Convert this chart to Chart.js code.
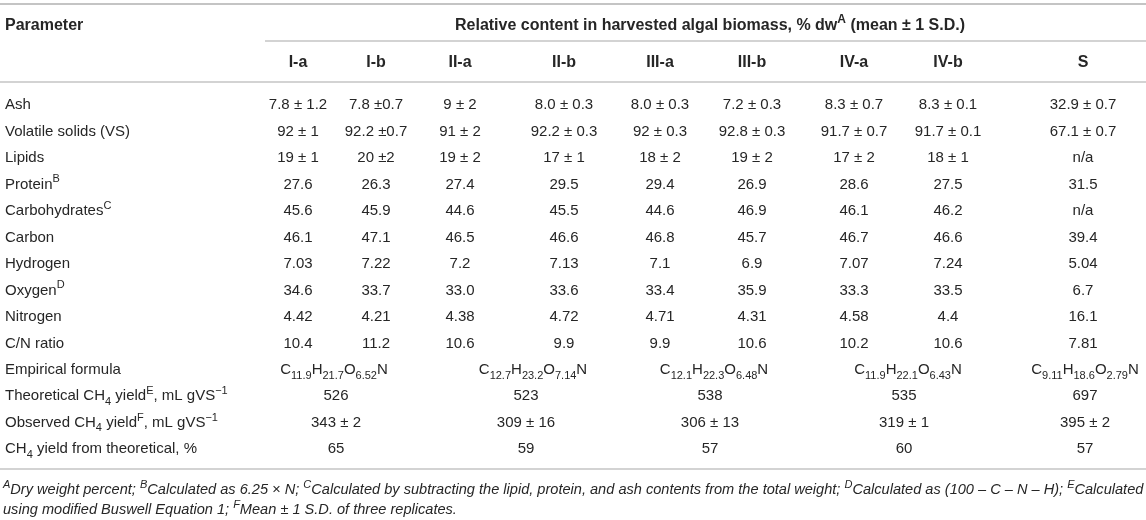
<!DOCTYPE html>
<html><head><meta charset="utf-8">
<script src="https://cdn.jsdelivr.net/npm/chart.js@4.4.1/dist/chart.umd.min.js"></script>
<style>html,body{margin:0;padding:0;background:#fff}#wrap{width:1146px;height:520px;overflow:hidden}</style>
</head><body><div id="wrap"><canvas id="c" width="1146" height="520"></canvas></div>
<script>
// ---------- DATA ----------
const headerParameter = "Parameter";
const headerSpan = "Relative content in harvested algal biomass, % dw^{A} (mean ± 1 S.D.)";
const parameters = ["Ash","Volatile solids (VS)","Lipids","Protein^{B}","Carbohydrates^{C}","Carbon","Hydrogen","Oxygen^{D}","Nitrogen","C/N ratio","Empirical formula","Theoretical CH_{4} yield^{E}, mL gVS^{−1}","Observed CH_{4} yield^{F}, mL gVS^{−1}","CH_{4} yield from theoretical, %"];
const columns = ["I-a","I-b","II-a","II-b","III-a","III-b","IV-a","IV-b","S"];
const valuesIa  = ["7.8 ± 1.2","92 ± 1","19 ± 1","27.6","45.6","46.1","7.03","34.6","4.42","10.4"];
const valuesIb  = ["7.8 ±0.7","92.2 ±0.7","20 ±2","26.3","45.9","47.1","7.22","33.7","4.21","11.2"];
const valuesIIa = ["9 ± 2","91 ± 2","19 ± 2","27.4","44.6","46.5","7.2","33.0","4.38","10.6"];
const valuesIIb = ["8.0 ± 0.3","92.2 ± 0.3","17 ± 1","29.5","45.5","46.6","7.13","33.6","4.72","9.9"];
const valuesIIIa = ["8.0 ± 0.3","92 ± 0.3","18 ± 2","29.4","44.6","46.8","7.1","33.4","4.71","9.9"];
const valuesIIIb = ["7.2 ± 0.3","92.8 ± 0.3","19 ± 2","26.9","46.9","45.7","6.9","35.9","4.31","10.6"];
const valuesIVa = ["8.3 ± 0.7","91.7 ± 0.7","17 ± 2","28.6","46.1","46.7","7.07","33.3","4.58","10.2"];
const valuesIVb = ["8.3 ± 0.1","91.7 ± 0.1","18 ± 1","27.5","46.2","46.6","7.24","33.5","4.4","10.6"];
const valuesS   = ["32.9 ± 0.7","67.1 ± 0.7","n/a","31.5","n/a","39.4","5.04","6.7","16.1","7.81"];
const groups = ["I","II","III","IV","S"];
const empiricalFormula = ["C_{11.9}H_{21.7}O_{6.52}N","C_{12.7}H_{23.2}O_{7.14}N","C_{12.1}H_{22.3}O_{6.48}N","C_{11.9}H_{22.1}O_{6.43}N","C_{9.11}H_{18.6}O_{2.79}N"];
const theoreticalYield = ["526","523","538","535","697"];
const observedYield = ["343 ± 2","309 ± 16","306 ± 13","319 ± 1","395 ± 2"];
const yieldFromTheoretical = ["65","59","57","60","57"];
const footnotes = [
  "^{A}Dry weight percent; ^{B}Calculated as 6.25 × N; ^{C}Calculated by subtracting the lipid, protein, and ash contents from the total weight; ^{D}Calculated as (100 – C – N – H); ^{E}Calculated",
  "using modified Buswell Equation 1; ^{F}Mean ± 1 S.D. of three replicates."
];

// ---------- LAYOUT ----------
const W = 1146, H = 520;
const ROW0 = 104, ROWH = 26.46;
const COL_X = [298,376,460,564,660,752,854,948,1083];
const GROUP_X = [336,526,710,904,1085];
const FORMULA_X = [334,533,714,908,1085];
const LABEL_X = 5;
const toRow = py => (py - ROW0) / ROWH;
const HEAD1_Y = 24, HEAD2_Y = 61, FOOT_Y = [489, 509];
const RULES = [{y:4,x0:0,x1:W,w:2},{y:41,x0:265,x1:W,w:1.5},{y:82,x0:0,x1:W,w:1.5},{y:469,x0:0,x1:W,w:1.5}];
const FAM = '"Liberation Sans", Arial, Helvetica, sans-serif';
const TEXT = '#262626', RULE = '#c4c4c4';
const BODY = 15, HEAD = 16;

const colValues = [valuesIa,valuesIb,valuesIIa,valuesIIb,valuesIIIa,valuesIIIb,valuesIVa,valuesIVb,valuesS];

function parseRich(s){
  const out=[]; const re=/(\^|_)\{([^}]*)\}/g; let last=0,m;
  while((m=re.exec(s))){ if(m.index>last) out.push({t:s.slice(last,m.index),k:0}); out.push({t:m[2],k:m[1]==='^'?1:-1}); last=re.lastIndex; }
  if(last<s.length) out.push({t:s.slice(last),k:0});
  return out;
}
function fontOf(o,k){ const sz = k? Math.round(o.size*0.72): o.size; return `${o.style||'normal'} ${o.weight||'normal'} ${sz}px ${FAM}`; }
function richWidth(ctx,s,o){
  let w=0; parseRich(s).forEach(g=>{ctx.font=fontOf(o,g.k); w+=ctx.measureText(g.t).width;}); return w;
}
function drawRich(ctx,s,x,y,o){
  const segs=parseRich(s); let w=0;
  segs.forEach(g=>{ctx.font=fontOf(o,g.k); g.w=ctx.measureText(g.t).width; w+=g.w;});
  let cx = o.align==='center'? x-w/2 : o.align==='right'? x-w : x;
  ctx.fillStyle=o.color||TEXT; ctx.textAlign='left'; ctx.textBaseline='alphabetic';
  const base = y + o.size*0.36;
  segs.forEach(g=>{ ctx.font=fontOf(o,g.k);
    const dy = g.k===1? -o.size*0.42 : g.k===-1? o.size*0.30 : 0;
    ctx.fillText(g.t,cx,base+dy); cx+=g.w; });
}

// ---------- DATASETS ----------
const datasets = [];
datasets.push({label:'Parameter', data: parameters.map((p,i)=>({x:LABEL_X,y:i,t:p})), align:'left'});
columns.forEach((c,ci)=>{
  datasets.push({label:c, data: colValues[ci].map((v,i)=>({x:COL_X[ci],y:i,t:v})), align:'center'});
});
const mergedRows = [empiricalFormula, theoreticalYield, observedYield, yieldFromTheoretical];
mergedRows.forEach((row,ri)=>{
  datasets.push({label:'merged'+ri, data: row.map((v,gi)=>({x:(ri===0?FORMULA_X:GROUP_X)[gi], y:10+ri, t:v})), align:'center'});
});
datasets.forEach(d=>{ d.pointRadius=0; d.pointHoverRadius=0; d.showLine=false; });

const tablePlugin = {
  id:'table',
  afterDatasetsDraw(chart){
    const ctx=chart.ctx, xs=chart.scales.x, ys=chart.scales.y;
    ctx.save();
    ctx.strokeStyle=RULE;
    RULES.forEach(r=>{ const py=ys.getPixelForValue(toRow(r.y)); ctx.lineWidth=r.w; ctx.beginPath(); ctx.moveTo(xs.getPixelForValue(r.x0),py); ctx.lineTo(xs.getPixelForValue(r.x1),py); ctx.stroke(); });
    drawRich(ctx,headerParameter,xs.getPixelForValue(LABEL_X),ys.getPixelForValue(toRow(HEAD1_Y)),{size:HEAD,weight:'bold',align:'left'});
    const spanX = 710;
    drawRich(ctx,headerSpan,xs.getPixelForValue(spanX),ys.getPixelForValue(toRow(HEAD1_Y)),{size:HEAD,weight:'bold',align:'center'});
    columns.forEach((c,ci)=>drawRich(ctx,c,xs.getPixelForValue(COL_X[ci]),ys.getPixelForValue(toRow(HEAD2_Y)),{size:HEAD,weight:'bold',align:'center'}));
    chart.data.datasets.forEach((d,di)=>{
      const meta=chart.getDatasetMeta(di);
      meta.data.forEach((el,i)=>{ drawRich(ctx,d.data[i].t,el.x,el.y,{size:BODY,align:d.align}); });
    });
    const fo={size:14,style:'italic',align:'left'};
    const w0 = richWidth(ctx,footnotes[0],fo);
    fo.size = Math.max(11, Math.min(17, 14*1140/w0));
    footnotes.forEach((f,i)=>drawRich(ctx,f,xs.getPixelForValue(3),ys.getPixelForValue(toRow(FOOT_Y[i])),fo));
    ctx.restore();
  }
};

new Chart(document.getElementById('c'),{
  type:'scatter',
  data:{datasets},
  options:{
    responsive:false, animation:false, events:[],
    layout:{padding:0},
    plugins:{legend:{display:false},tooltip:{enabled:false}},
    scales:{
      x:{type:'linear',min:0,max:W,display:false},
      y:{type:'linear',min:toRow(0),max:toRow(H),reverse:true,display:false}
    }
  },
  plugins:[tablePlugin]
});
</script></body></html>
